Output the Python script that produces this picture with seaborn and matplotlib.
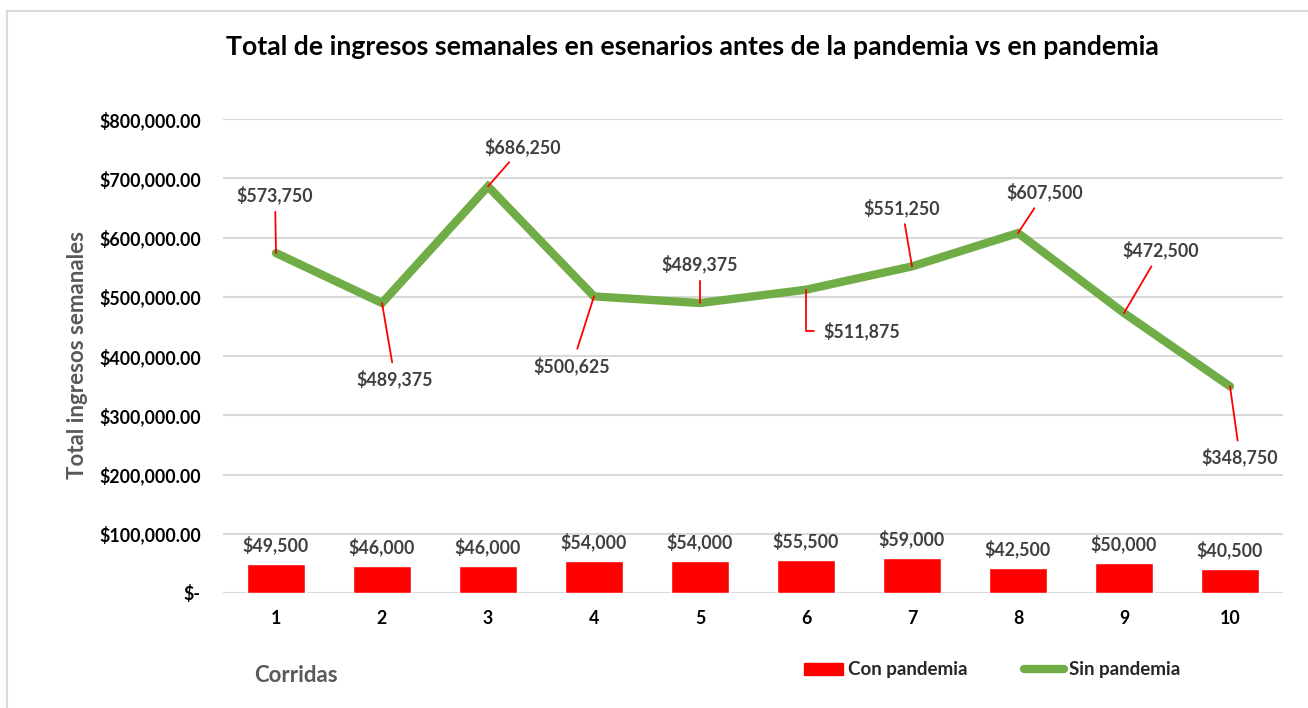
import numpy as np
import matplotlib
matplotlib.use("Agg")
import matplotlib.pyplot as plt
import seaborn as sns
from matplotlib.patches import Rectangle
from matplotlib.lines import Line2D
from matplotlib.patches import Patch

# Weekly revenue per simulation run
corridas = np.arange(1, 11)
con_pandemia = [49500, 46000, 46000, 54000, 54000, 55500, 59000, 42500, 50000, 40500]
sin_pandemia = [573750, 489375, 686250, 500625, 489375, 511875, 551250, 607500, 472500, 348750]
y_ticks = [0, 100000, 200000, 300000, 400000, 500000, 600000, 700000, 800000]

# label placement for the "Sin pandemia" values (pixel offsets from the point)
line_label_offsets = [(-1, 58), (13, -76), (35, 40), (-22, -69), (0, 39),
                      (57, -41), (-10, 59), (27, 41), (37, 63), (10, -71)]

sns.set_theme(style="white")
plt.rcParams["font.family"] = ["Lato", "DejaVu Sans"]

RED = "#FF0000"
GREEN = "#70AD47"
GRID = "#D9D9D9"
LABEL = "#404040"

fig = plt.figure(figsize=(13.08, 7.08), dpi=100)
ax = fig.add_axes([223 / 1308, 1 - 593 / 708, (1283 - 223) / 1308, (593 - 119) / 708])

sns.barplot(x=corridas, y=con_pandemia, native_scale=True, color=RED,
            saturation=1, width=0.55, errorbar=None, ax=ax, zorder=2)
sns.lineplot(x=corridas, y=sin_pandemia, color=GREEN, linewidth=6, ax=ax,
             zorder=3, solid_capstyle="round", solid_joinstyle="miter")

ax.set_xlim(0.5, 10.5)
ax.set_ylim(0, 800000)
ax.set_yticks(y_ticks)
ax.set_yticklabels(["$-"] + [f"${v:,.2f}" for v in y_ticks[1:]])
ax.set_xticks(corridas)
ax.set_xticklabels([str(c) for c in corridas])
ax.grid(axis="y", color=GRID, linewidth=1.5, zorder=0)
ax.grid(axis="x", visible=False)
for s in ax.spines.values():
    s.set_visible(False)
ax.tick_params(axis="both", length=0, labelsize=12.8, labelcolor="black")
ax.tick_params(axis="y", pad=16)
ax.tick_params(axis="x", pad=12)
for t in ax.get_xticklabels() + ax.get_yticklabels():
    t.set_fontweight("bold")
ax.set_xlabel("")
ax.set_ylabel("")

# bar value labels
ax.bar_label(ax.containers[0], labels=[f"${v:,.0f}" for v in con_pandemia],
             padding=7, fontsize=12.8, fontweight="bold", color=LABEL)

# line value labels with leader lines
for i, (x, v) in enumerate(zip(corridas, sin_pandemia)):
    dx, dy = line_label_offsets[i]
    if i == 5:
        ax.annotate(f"${v:,.0f}", xy=(x, v), xytext=(dx - 40, dy),
                    textcoords="offset pixels", ha="left", va="center",
                    fontsize=12.8, fontweight="bold", color=LABEL, zorder=5,
                    arrowprops=dict(arrowstyle="-", color="red", lw=1.3,
                                    shrinkA=4, shrinkB=0, relpos=(0, 0.5),
                                    connectionstyle="angle,angleA=0,angleB=90,rad=0"))
    else:
        ax.annotate(f"${v:,.0f}", xy=(x, v), xytext=(dx, dy),
                    textcoords="offset pixels", ha="center", va="center",
                    fontsize=12.8, fontweight="bold", color=LABEL, zorder=5,
                    arrowprops=dict(arrowstyle="-", color="red", lw=1.3,
                                    shrinkA=3, shrinkB=0))

fig.text(692 / 1308, 1 - 47 / 708,
         "Total de ingresos semanales en esenarios antes de la pandemia vs en pandemia",
         ha="center", va="center", fontsize=19.2, fontweight="bold", color="black")
fig.text(77 / 1308, 1 - 355 / 708, "Total ingresos semanales", rotation=90,
         ha="center", va="center", fontsize=16, fontweight="bold", color="#595959")
fig.text(296 / 1308, 1 - 675 / 708, "Corridas", ha="center", va="center",
         fontsize=16, fontweight="bold", color="#595959")

handles = [Patch(facecolor=RED, edgecolor=RED, label="Con pandemia"),
           Line2D([0], [0], color=GREEN, lw=6, solid_capstyle="round", label="Sin pandemia")]
leg = fig.legend(handles=handles, loc="center", bbox_to_anchor=(992 / 1308, 1 - 670 / 708),
                 ncol=2, frameon=False, handlelength=2.1, handleheight=0.55,
                 handletextpad=0.3, columnspacing=3.0,
                 prop={"size": 13.5, "weight": "bold"})

# chart area border
fig.patches.append(Rectangle((7 / 1308, -0.1), 1.2, 1.1 - 11 / 708,
                             transform=fig.transFigure, fill=False,
                             edgecolor=GRID, linewidth=1.5))

fig.savefig("out.png", dpi=100)
